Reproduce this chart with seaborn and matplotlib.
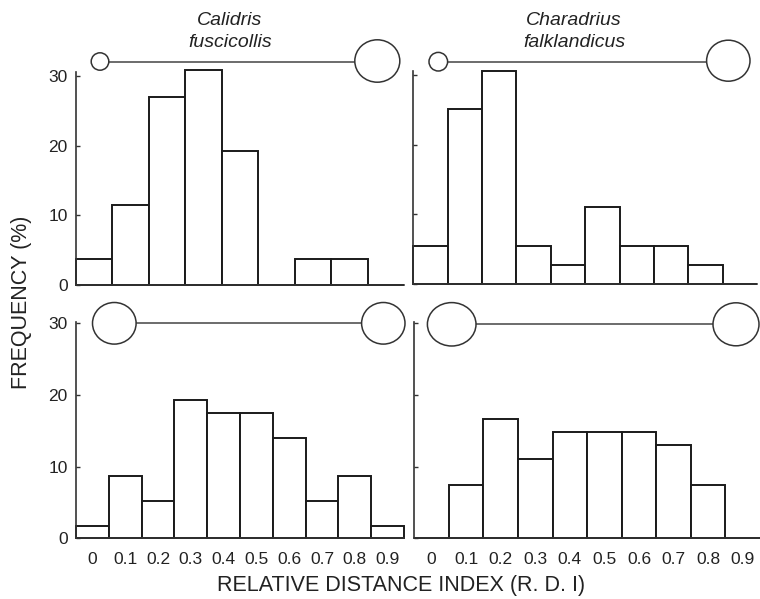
import numpy as np
import pandas as pd
import seaborn as sns
import matplotlib
matplotlib.use("Agg")
import matplotlib.pyplot as plt
from matplotlib.patches import Ellipse
from matplotlib.lines import Line2D

# ---------------- data ----------------
rdi_ticks = [0, 0.1, 0.2, 0.3, 0.4, 0.5, 0.6, 0.7, 0.8, 0.9]
rdi_labels = ["0", "0.1", "0.2", "0.3", "0.4", "0.5", "0.6", "0.7", "0.8", "0.9"]
y_ticks = [0, 10, 20, 30]

titles = ["Calidris\nfuscicollis", "Charadrius\nfalklandicus"]

# frequency (%) per RDI class
freq_top_left = [3.8, 11.5, 26.9, 30.8, 19.2, 0.0, 3.8, 3.8, 0.0]          # 9 classes
freq_top_right = [5.5, 25.1, 30.6, 5.5, 2.8, 11.1, 5.5, 5.5, 2.8, 0.0]
freq_bottom_left = [1.7, 8.7, 5.2, 19.3, 17.5, 17.5, 14.0, 5.2, 8.7, 1.7]
freq_bottom_right = [0.0, 7.4, 16.7, 11.1, 14.8, 14.8, 14.8, 13.0, 7.4, 0.0]

x_label = "RELATIVE DISTANCE INDEX (R. D. I)"
y_label = "FREQUENCY (%)"

# ---------------- style ----------------
sns.set_style("ticks")
plt.rcParams["font.family"] = ["Liberation Sans", "DejaVu Sans"]
TXT = "#222222"
EDGE = "#1a1a1a"

W, H = 760, 599
fig = plt.figure(figsize=(W / 100, H / 100), dpi=100)


def px_axes(l, r, b, t):
    return fig.add_axes([l / W, (H - b) / H, (r - l) / W, (b - t) / H])


panels = [
    dict(freq=freq_top_left, box=(76, 404, 285, 71.7), ytop=30.6, bottom=False, left=True),
    dict(freq=freq_top_right, box=(413.3, 757, 284, 71), ytop=30.6, bottom=False, left=False),
    dict(freq=freq_bottom_left, box=(76, 404, 538.3, 322), ytop=30.2, bottom=True, left=True),
    dict(freq=freq_bottom_right, box=(414.3, 760, 538.3, 322), ytop=30.2, bottom=True, left=False),
]

xmin, xmax = -0.05, 0.95
for p in panels:
    ax = px_axes(*p["box"])
    n = len(p["freq"])
    edges = [float(e) for e in np.linspace(xmin, xmax, n + 1)]
    centers = [(edges[i] + edges[i + 1]) / 2 for i in range(n)]
    df = pd.DataFrame({"rdi": centers, "freq": p["freq"]})
    sns.histplot(data=df, x="rdi", weights="freq", bins=edges, ax=ax,
                 stat="count", color="white", alpha=1, edgecolor=EDGE,
                 linewidth=1.4)
    for patch in ax.patches:
        patch.set_clip_on(False)
    ax.set_xlim(xmin, xmax)
    ax.set_ylim(0, p["ytop"])
    ax.set_xlabel("")
    ax.set_ylabel("")
    ax.set_facecolor("none")
    sns.despine(ax=ax)
    for s in ("left", "bottom"):
        ax.spines[s].set_color("#333333")
        ax.spines[s].set_linewidth(1.2)
    ax.set_yticks(y_ticks)
    ax.tick_params(axis="y", direction="in", length=3, width=1, color="#333333",
                   labelsize=12.5, labelcolor=TXT, pad=6, labelleft=p["left"])
    if p["bottom"]:
        ax.set_xticks(rdi_ticks)
        ax.set_xticklabels(rdi_labels)
        ax.tick_params(axis="x", length=0, labelsize=12.5, labelcolor=TXT, pad=10)
    else:
        ax.set_xticks([])

# ---------------- decorations: circles and connecting lines ----------------
decor = [
    ((100, 61.5, 8.8, 8.7), (377.3, 61, 22.5, 21.2)),
    ((438.3, 61.7, 9.3, 9.3), (728.3, 60.7, 21.7, 20.5)),
    ((114.3, 323.3, 21.8, 20.8), (383.3, 323.3, 21.7, 20.8)),
    ((451.7, 324.3, 24.3, 21.7), (736, 324.3, 23, 21.5)),
]
for a, b in decor:
    fig.add_artist(Line2D([a[0] / W, b[0] / W], [1 - a[1] / H, 1 - a[1] / H],
                          transform=fig.transFigure, color="#444444", lw=1.1, zorder=5))
    for cx, cy, rx, ry in (a, b):
        fig.add_artist(Ellipse((cx / W, 1 - cy / H), 2 * rx / W, 2 * ry / H,
                               transform=fig.transFigure, facecolor="white",
                               edgecolor="#333333", lw=1.1, zorder=6))

# ---------------- titles and labels ----------------
fig.text(230 / W, 1 - 31.5 / H, titles[0], ha="center", va="center", style="italic",
         fontsize=14, color=TXT, linespacing=1.45)
fig.text(574 / W, 1 - 31.5 / H, titles[1], ha="center", va="center", style="italic",
         fontsize=14, color=TXT, linespacing=1.45)
fig.text(401 / W, 1 - 586 / H, x_label, ha="center", va="center", fontsize=15.5, color=TXT)
fig.text(22 / W, 1 - 302 / H, y_label, ha="center", va="center", rotation=90,
         fontsize=15.5, color=TXT)

fig.savefig("out.png", dpi=100)
